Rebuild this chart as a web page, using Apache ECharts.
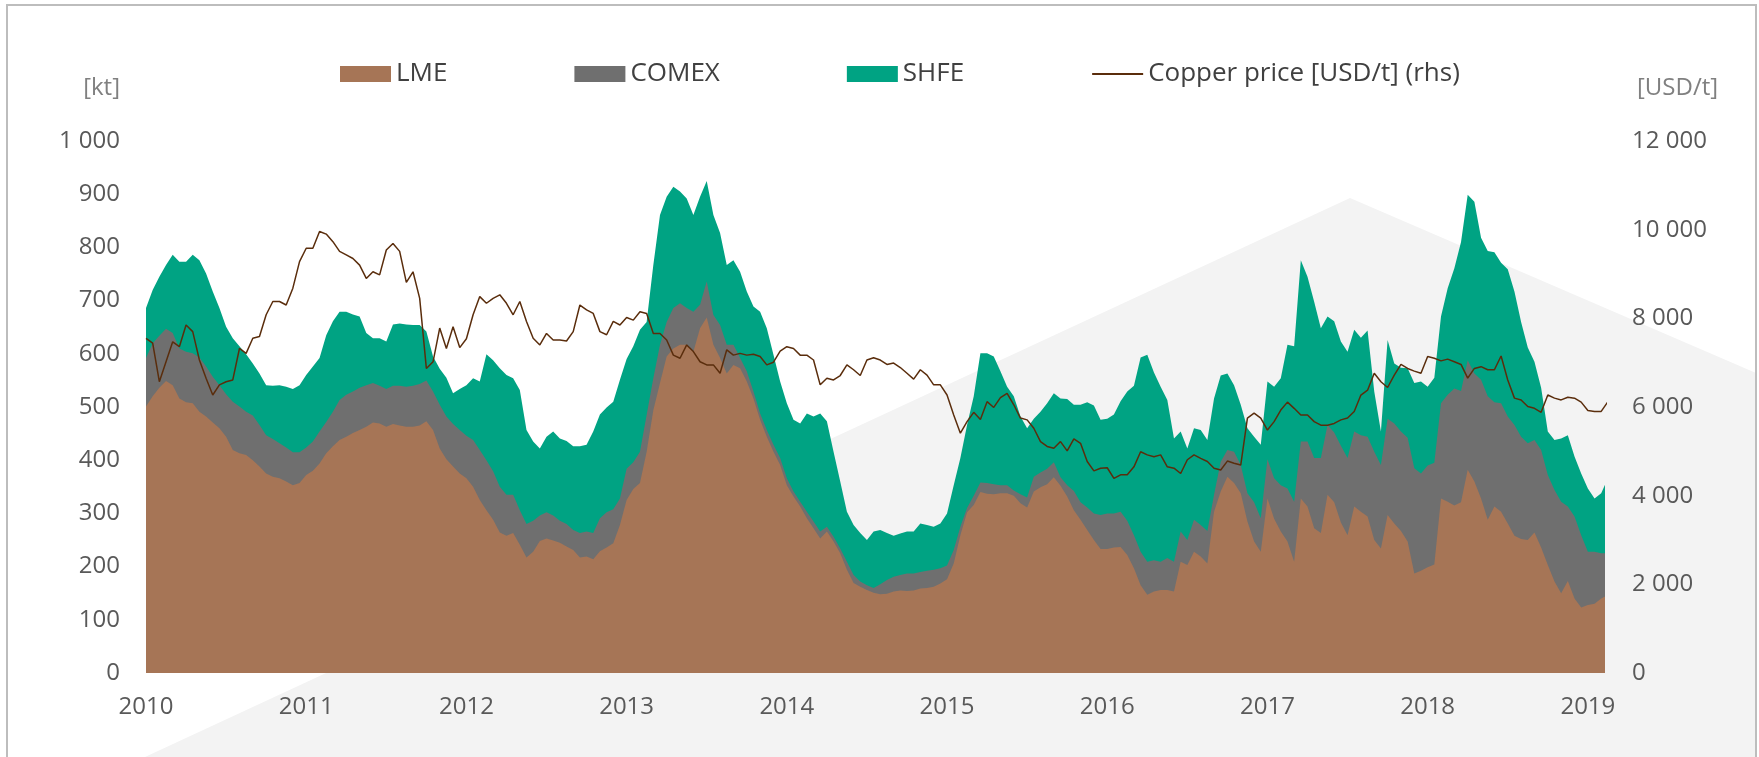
<!DOCTYPE html>
<html>
<head>
<meta charset="utf-8">
<title>Copper stocks and price</title>
<script src="https://cdn.jsdelivr.net/npm/echarts@6/dist/echarts.min.js"></script>
<style>
  html, body { margin: 0; padding: 0; background: #fff; }
  #chart { width: 1759px; height: 757px; }
</style>
</head>
<body>
<div id="chart"></div>
<script>
// half-monthly samples starting Jan 2010
const startYear = 2010
const stepsPerYear = 24

// warehouse stocks [kt]
const lme = [
  501, 520, 536, 549, 541, 516, 509, 507, 491, 482, 471, 460, 444, 419, 413, 410, 400, 388, 375, 369,
  366, 360, 353, 357, 372, 380, 394, 413, 426, 438, 444, 451, 457, 463, 471, 469, 463,
  468, 465, 463, 463, 465, 473, 457, 422, 402, 388, 375, 366, 350, 325, 306, 288, 264, 258, 263,
  241, 217, 228, 248, 253, 249, 245, 238, 231, 217, 219, 214, 229, 236, 244, 278, 325, 346,
  357, 416, 494, 545, 595, 610, 617, 617, 604, 648, 668, 617, 592, 563, 579, 573, 548, 516, 476, 444,
  416, 391, 353, 332, 313, 291, 272, 253, 266, 247, 225, 194, 169, 162, 156, 151,
  148, 149, 153, 155, 154, 155, 159, 160, 162, 168, 176, 206, 259, 302, 316, 340, 337, 336, 338, 338,
  333, 319, 311, 341, 349, 355, 368, 352, 332, 306, 288, 269, 250, 233, 233, 236, 237,
  222, 197, 165, 147, 153, 156, 156, 153, 209, 203, 228, 219, 206, 303, 341, 369, 357, 338, 285, 247,
  228, 328, 290, 266, 247, 209, 328, 313, 272, 263, 335, 321, 283, 259, 313, 303, 294,
  250, 234, 297, 281, 267, 247, 187, 192, 199, 204, 328, 322, 315, 321, 382, 360, 328, 288, 313, 303,
  281, 258, 252, 250, 264, 236, 203, 172, 150, 173, 140, 123, 128, 130, 140, 147
]
const comex = [
  91, 100, 98, 98, 98, 94, 95, 94, 102, 94, 86, 81, 80, 91, 88, 81, 84, 78, 72, 71,
  66, 64, 62, 58, 52, 55, 60, 59, 65, 75, 79, 78, 79, 78, 74, 71, 71,
  72, 75, 75, 77, 78, 77, 72, 82, 80, 80, 82, 80, 88, 94, 94, 91, 86, 77, 72,
  65, 63, 58, 48, 49, 47, 41, 42, 38, 46, 47, 49, 62, 66, 64, 50, 59, 50,
  59, 69, 60, 72, 65, 76, 78, 69, 75, 44, 68, 56, 62, 54, 38, 19, 19, 13, 12, 13,
  13, 13, 13, 9, 9, 12, 13, 13, 9, 9, 9, 15, 15, 10, 9, 9,
  19, 26, 28, 29, 33, 32, 31, 32, 32, 29, 26, 25, 16, 8, 17, 18, 20, 19, 15, 15,
  10, 17, 19, 28, 28, 29, 28, 16, 21, 36, 33, 42, 50, 64, 67, 64, 66,
  64, 62, 63, 62, 59, 53, 60, 56, 57, 47, 60, 59, 61, 32, 56, 50, 59, 53, 53, 74,
  63, 74, 76, 87, 100, 113, 107, 122, 132, 141, 131, 131, 144, 145, 141, 144, 150,
  166, 157, 181, 188, 187, 195, 198, 183, 191, 191, 179, 201, 220, 209, 206, 203, 223, 232, 196, 204,
  201, 208, 192, 182, 174, 183, 169, 172, 172, 140, 154, 136, 100, 98, 85, 78
]
const shfe = [
  94, 100, 111, 120, 147, 163, 169, 185, 183, 175, 160, 145, 127, 119, 113, 108, 98, 97, 94, 100,
  109, 114, 119, 126, 136, 141, 138, 163, 170, 166, 156, 145, 134, 98, 84, 89, 89,
  115, 117, 117, 114, 111, 92, 66, 68, 73, 58, 77, 95, 116, 129, 199, 209, 223, 225, 219,
  226, 177, 149, 126, 142, 158, 155, 156, 157, 163, 163, 191, 195, 197, 202, 223, 206, 218,
  229, 175, 213, 244, 235, 228, 210, 206, 182, 203, 189, 188, 173, 150, 159, 162, 150, 160, 191, 191,
  169, 144, 141, 135, 147, 185, 197, 222, 198, 160, 126, 94, 94, 91, 85, 106,
  102, 88, 77, 78, 79, 79, 91, 86, 81, 84, 98, 122, 129, 156, 187, 243, 244, 240, 214, 185,
  177, 146, 130, 109, 114, 123, 130, 148, 162, 162, 183, 198, 203, 179, 178, 186, 208,
  243, 281, 365, 389, 353, 329, 297, 232, 188, 172, 172, 179, 171, 181, 162, 144, 125, 113, 122, 123,
  138, 146, 172, 201, 270, 292, 341, 310, 294, 244, 204, 209, 196, 200, 191, 183, 200,
  113, 63, 148, 113, 120, 131, 160, 173, 148, 160, 163, 200, 226, 280, 311, 323, 267, 273, 282, 264,
  277, 251, 216, 180, 147, 117, 82, 94, 119, 134, 113, 116, 119, 100, 113, 141
]
// copper price [USD/t]
const copper = [
  7550, 7440, 6570, 7020, 7470, 7360, 7850, 7700, 7060, 6650, 6270, 6500, 6570, 6610, 7320, 7210, 7550, 7590, 8080, 8380,
  8380, 8300, 8680, 9280, 9580, 9580, 9960, 9900, 9730, 9510, 9430, 9350, 9200, 8900, 9050, 8980, 9540,
  9690, 9510, 8810, 9050, 8450, 6870, 7020, 7780, 7320, 7810, 7340, 7540, 8080, 8490, 8340, 8450, 8530, 8340, 8080,
  8380, 7930, 7550, 7400, 7660, 7510, 7510, 7490, 7700, 8300, 8190, 8110, 7700, 7630, 7930, 7850, 8020, 7960,
  8150, 8110, 7660, 7660, 7510, 7170, 7100, 7400, 7250, 7020, 6950, 6950, 6760, 7290, 7170, 7210, 7170, 7190, 7140, 6950,
  7010, 7260, 7360, 7320, 7170, 7170, 7060, 6500, 6650, 6610, 6710, 6950, 6840, 6710, 7060, 7110,
  7060, 6960, 6990, 6890, 6760, 6630, 6840, 6720, 6500, 6500, 6270, 5820, 5410, 5670, 5880, 5720, 6120, 5990, 6210, 6310,
  6050, 5750, 5710, 5520, 5220, 5110, 5070, 5220, 5010, 5280, 5180, 4770, 4560, 4620, 4630, 4390, 4470,
  4470, 4650, 4990, 4920, 4880, 4920, 4650, 4620, 4500, 4810, 4920, 4840, 4770, 4620, 4580, 4780, 4730, 4690, 5750, 5860,
  5750, 5480, 5670, 5930, 6110, 5970, 5820, 5820, 5670, 5590, 5590, 5630, 5710, 5750, 5900, 6270, 6380,
  6760, 6570, 6440, 6720, 6960, 6870, 6810, 6760, 7140, 7100, 7040, 7080, 7020, 6960, 6650, 6870, 6910, 6840, 6840, 7150,
  6610, 6200, 6160, 6010, 5970, 5880, 6270, 6200, 6160, 6220, 6200, 6110, 5920, 5900, 5900, 6120
]

const names = ['LME', 'COMEX', 'SHFE', 'Copper price [USD/t] (rhs)']
const colors = ['#A67556', '#6F6F6F', '#00A383', '#5A2D0C']

const font = 'Open Sans'
const labelColor = '#595959'

// time of each sample, in years
const dates = lme.map((v, i) => startYear + i / stepsPerYear)

// areas are painted on top of each other, so build the running sums
const lmeComex = lme.map((v, i) => v + comex[i])
const total = lmeComex.map((v, i) => v + shfe[i])

function pairs (values) {
  return dates.map((t, i) => [t, values[i]])
}

// 1000 -> "1 000"
function thousands (v) {
  if (v < 1000) return String(v)
  return Math.floor(v / 1000) + ' ' + String(v % 1000).padStart(3, '0')
}

function areaSeries (name, values, color) {
  return {
    name: name,
    type: 'line',
    data: pairs(values),
    symbol: 'none',
    itemStyle: { color: color },
    lineStyle: { width: 0 },
    areaStyle: { color: color, opacity: 1 }
  }
}

const chart = echarts.init(document.getElementById('chart'))

const option = {
  animation: false,
  textStyle: { fontFamily: font },
  graphic: [
    {
      type: 'polygon',
      silent: true,
      z: 0,
      shape: { points: [[145, 757], [1350, 198], [1756, 373], [1756, 757]] },
      style: { fill: '#F3F3F3' }
    },
    {
      type: 'rect',
      silent: true,
      z: 100,
      shape: { x: 7, y: 5, width: 1749, height: 800 },
      style: { fill: null, stroke: '#BDBDBD', lineWidth: 2 }
    },
    {
      type: 'text',
      x: 120,
      y: 88,
      style: { text: '[kt]', align: 'right', verticalAlign: 'middle', fontSize: 24, fontFamily: font, fill: '#808080' }
    },
    {
      type: 'text',
      x: 1637,
      y: 88,
      style: { text: '[USD/t]', align: 'left', verticalAlign: 'middle', fontSize: 24, fontFamily: font, fill: '#808080' }
    }
  ],
  legend: {
    left: 340,
    top: 61,
    padding: 0,
    itemGap: 127,
    itemWidth: 51,
    itemHeight: 16,
    textStyle: { fontSize: 26, color: '#404040', fontFamily: font },
    data: [
      { name: names[0], icon: 'rect' },
      { name: names[1], icon: 'rect' },
      { name: names[2], icon: 'rect' },
      // plain line, no marker dot
      { name: names[3], itemStyle: { opacity: 0 } }
    ]
  },
  grid: { left: 146, right: 154, top: 141, bottom: 84 },
  xAxis: {
    type: 'value',
    min: 2010,
    max: 2019.107,
    interval: 1,
    axisLine: { show: false },
    axisTick: { show: false },
    splitLine: { show: false },
    axisLabel: {
      fontSize: 24,
      color: labelColor,
      margin: 22,
      showMaxLabel: false,
      formatter: v => (Number.isInteger(v) ? String(v) : '')
    }
  },
  yAxis: [
    {
      type: 'value',
      min: 0,
      max: 1000,
      interval: 100,
      axisLine: { show: false },
      axisTick: { show: false },
      splitLine: { show: false },
      axisLabel: { fontSize: 24, color: labelColor, margin: 26, formatter: thousands }
    },
    {
      type: 'value',
      position: 'right',
      min: 0,
      max: 12000,
      interval: 2000,
      axisLine: { show: false },
      axisTick: { show: false },
      splitLine: { show: false },
      axisLabel: { fontSize: 24, color: labelColor, margin: 27, formatter: thousands }
    }
  ],
  series: [
    areaSeries(names[2], total, colors[2]),
    areaSeries(names[1], lmeComex, colors[1]),
    areaSeries(names[0], lme, colors[0]),
    {
      name: names[3],
      type: 'line',
      yAxisIndex: 1,
      data: pairs(copper),
      symbol: 'none',
      itemStyle: { color: colors[3] },
      lineStyle: { color: colors[3], width: 1.5 }
    }
  ]
}

chart.setOption(option)
</script>
</body>
</html>
